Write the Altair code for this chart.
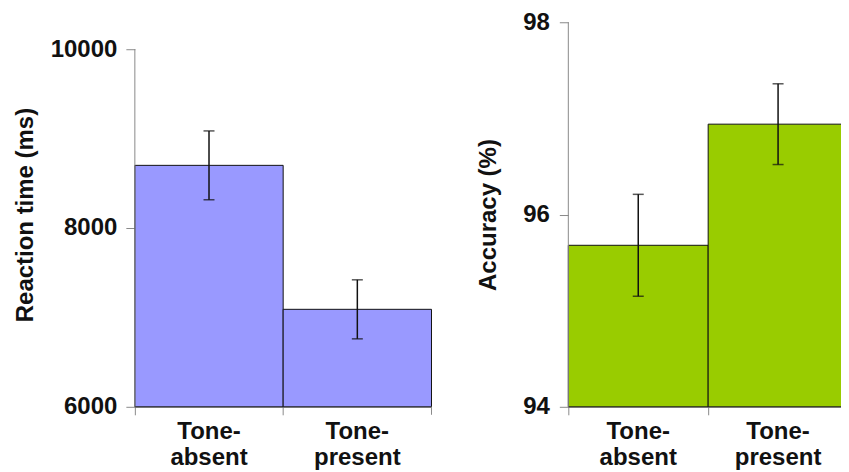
import altair as alt
import pandas as pd

conditions = ["Tone-absent", "Tone-present"]
rt_mean = [8700, 7090]
rt_err = [385, 330]
acc_mean = [95.68, 96.94]
acc_err = [0.53, 0.42]
rt_ticks = [6000, 8000, 10000]
acc_ticks = [94, 96, 98]

FONT = "Liberation Sans"
AXIS_GRAY = "#8a8a8a"
FS = 24


def panel(means, errs, ticks, domain, color, title, width, height, title_pad, label_pad):
    df = pd.DataFrame({"cond": conditions, "mean": means, "err": errs})
    base = alt.Chart(df).transform_calculate(
        lo="datum.mean - datum.err", hi="datum.mean + datum.err"
    )

    x = alt.X(
        "cond:N",
        sort=conditions,
        title=None,
        scale=alt.Scale(paddingInner=0, paddingOuter=0),
        axis=alt.Axis(
            labelExpr="[slice(datum.label, 0, 5), slice(datum.label, 5)]",
            labelAngle=0,
            labelFont=FONT,
            labelFontSize=FS,
            labelFontWeight="bold",
            labelColor="#111",
            labelLineHeight=26,
            labelPadding=5,
            tickSize=8,
            tickColor=AXIS_GRAY,
            domainColor=AXIS_GRAY,
            bandPosition=0,
        ),
    )

    def yenc(field):
        return alt.Y(
            field,
            type="quantitative",
            scale=alt.Scale(domain=domain, nice=False, zero=False),
            axis=alt.Axis(
                values=ticks,
                format="d",
                domain=False,
                grid=False,
                title=title,
                titleFont=FONT,
                titleFontSize=FS,
                titleFontWeight="bold",
                titleColor="#111",
                titlePadding=title_pad,
                labelFont=FONT,
                labelFontSize=FS,
                labelFontWeight="bold",
                labelColor="#111",
                labelPadding=label_pad,
                tickSize=9,
                tickColor=AXIS_GRAY,
            ),
        )

    bars = base.mark_bar(color=color, stroke="#111", strokeWidth=1).encode(
        x=x, y=yenc("mean"), y2=alt.datum(domain[0])
    )
    err_rule = base.mark_rule(color="#111", strokeWidth=1.5).encode(
        x=x, y=yenc("lo"), y2="hi:Q"
    )
    cap_lo = base.mark_tick(color="#111", size=11, thickness=1.5).encode(x=x, y=yenc("lo"))
    cap_hi = base.mark_tick(color="#111", size=11, thickness=1.5).encode(x=x, y=yenc("hi"))

    axis_df = pd.DataFrame({"lo": [min(ticks)], "hi": [max(ticks)]})
    axis_line = alt.Chart(axis_df).mark_rule(color=AXIS_GRAY, strokeWidth=1).encode(
        x=alt.value(0), y=yenc("lo"), y2="hi:Q"
    )
    end_tick = alt.Chart(axis_df).mark_rule(color=AXIS_GRAY, strokeWidth=1).encode(
        x=alt.value(width), y=alt.value(height), y2=alt.value(height + 8)
    )

    return alt.layer(bars, err_rule, cap_lo, cap_hi, axis_line, end_tick).properties(
        width=width, height=height
    )


left = panel(rt_mean, rt_err, rt_ticks, [6000, 10300], "#9999ff",
             "Reaction time (ms)", 297, 385, 13, 9)
right = panel(acc_mean, acc_err, acc_ticks, [94, 98], "#99cc00",
              "Accuracy (%)", 280, 385, 22, 10)

chart = (
    alt.hconcat(left, right, spacing=137, bounds="flush")
    .properties(padding={"left": 5, "top": 2, "right": -8, "bottom": 0})
    .configure_view(stroke=None)
)

chart.save("out.html", embed_options={"renderer": "svg", "actions": False})
